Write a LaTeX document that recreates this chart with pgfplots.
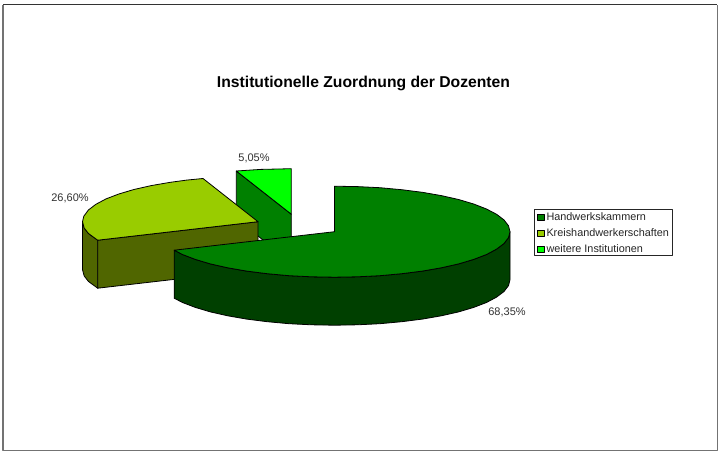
\documentclass[border=0pt]{standalone}
\usepackage{fontspec}
\setmainfont{Liberation Sans}
\usepackage{pgfplots}
\pgfplotsset{compat=1.18}
\definecolor{hwk}{RGB}{0,128,0}
\definecolor{hwkdark}{RGB}{0,64,0}
\definecolor{kreis}{RGB}{153,204,0}
\definecolor{kreisdark}{RGB}{80,102,0}
\definecolor{weitere}{RGB}{0,255,0}
\definecolor{labelgray}{RGB}{50,50,50}
\begin{document}
\begin{tikzpicture}
\begin{axis}[
  scale only axis, width=720pt, height=453pt,
  xmin=0, xmax=720, ymin=-0.7, ymax=452.3, y dir=reverse,
  hide axis,
  legend style={at={(axis cs:535.5,208.5)}, anchor=north west, draw=none, fill=none,
    font=\fontsize{10.85}{12}\selectfont, text=black!85, inner xsep=1.5pt, inner ysep=1.5pt,
    row sep=2.6pt, cells={anchor=west}},
  legend image code/.code={\draw[#1,line width=0.8pt] (0pt,-3pt) rectangle (6.5pt,3.2pt);},
  every axis plot/.append style={draw=black, line width=0.8pt, line join=round, forget plot},
]
\addlegendimage{fill=hwk}
\addlegendentry{Handwerkskammern}
\addlegendimage{fill=kreis}
\addlegendentry{Kreishandwerkerschaften}
\addlegendimage{fill=weitere}
\addlegendentry{weitere Institutionen}

% page background, keeps the full size of the picture
\addplot[draw=none, fill=white] coordinates {(0,-0.7) (720,-0.7) (720,452.3) (0,452.3)} -- cycle;

% frame
\addplot[draw=black!80, fill=none, line width=1pt] coordinates {(3,4.2) (716.5,4.2)};
\addplot[draw=black!55, fill=none, line width=1.5pt] coordinates {(2.8,4.2) (2.8,449.7) (717.5,449.7) (717.5,4.2)};

% legend box
\addplot[fill=white, draw=black!85] coordinates {(534.3,208.8) (672.7,208.8) (672.7,254.8) (534.3,254.8)} -- cycle;

% weitere Institutionen 5,05 %
\addplot[fill=hwk] coordinates {(236.3,170.3) (291.3,213.5) (291.3,261.5) (236.3,218.3)} -- cycle;
\addplot[fill=weitere] coordinates {(291.3,213.5) (236.3,170.3) (260.8,168.7) (291.3,168)} -- cycle;

% Kreishandwerkerschaften 26,60 %
\addplot[fill=kreisdark] coordinates {(97.7,239.5) (88.5,232.8) (84.2,227.3) (82.5,221) (82.5,269) (84.2,275.3) (88.5,280.8) (97.7,287.5)} -- cycle;
\addplot[fill=kreisdark] coordinates {(258,221) (97.7,239.5) (97.7,287.5) (258,269)} -- cycle;
\addplot[fill=kreis] coordinates {(258,221) (97.7,239.5) (88.5,232.8) (84.2,227.3) (82.5,221) (83.8,215.5) (88.5,209.2) (95.9,203.6) (106,198.2)
  (118.8,193.3) (133.9,188.8) (151.2,184.9) (170.3,181.6) (186.6,179.4) (203,177.8)} -- cycle;

% Handwerkskammern 68,35 %
\addplot[fill=hwkdark] coordinates {(510,231) (508.5,236.9) (504,242.8) (496.6,248.4) (486.5,253.8) (473.7,258.7) (458.6,263.2) (441.3,267.1)
  (422.3,270.4) (401.7,273) (379.9,275) (357.4,276.1) (334.5,276.5) (311.6,276.1) (289.1,275) (267.3,273) (246.7,270.4) (227.7,267.1)
  (210.4,263.2) (195.3,258.7) (182.5,253.8) (174.2,249.5)
  (174.2,297.5) (182.5,301.8) (195.3,306.7) (210.4,311.2) (227.7,315.1) (246.7,318.4) (267.3,321) (289.1,323) (311.6,324.1) (334.5,324.5)
  (357.4,324.1) (379.9,323) (401.7,321) (422.3,318.4) (441.3,315.1) (458.6,311.2) (473.7,306.7) (486.5,301.8) (496.6,296.4) (504,290.8)
  (508.5,284.9) (510,279)} -- cycle;
\addplot[fill=hwk] coordinates {(334.5,231) (334.5,185.5) (357.4,185.9) (379.9,187) (401.7,189) (422.3,191.6) (441.3,194.9) (458.6,198.8)
  (473.7,203.3) (486.5,208.3) (496.6,213.6) (504,219.2) (508.5,225.1) (510,231) (508.5,236.9) (504,242.8) (496.6,248.4) (486.5,253.8)
  (473.7,258.7) (458.6,263.2) (441.3,267.1) (422.3,270.4) (401.7,273) (379.9,275) (357.4,276.1) (334.5,276.5) (311.6,276.1) (289.1,275)
  (267.3,273) (246.7,270.4) (227.7,267.1) (210.4,263.2) (195.3,258.7) (182.5,253.8) (174.2,249.5)} -- cycle;

\node[font=\bfseries\fontsize{15.7}{18}\selectfont, text=black] at (axis cs:363.5,83) {Institutionelle Zuordnung der Dozenten};
\node[font=\fontsize{11}{12}\selectfont, text=labelgray] at (axis cs:254,158) {5,05\%};
\node[font=\fontsize{11}{12}\selectfont, text=labelgray] at (axis cs:70,198) {26,60\%};
\node[font=\fontsize{11}{12}\selectfont, text=labelgray] at (axis cs:507,312) {68,35\%};
\end{axis}
\end{tikzpicture}
\end{document}
